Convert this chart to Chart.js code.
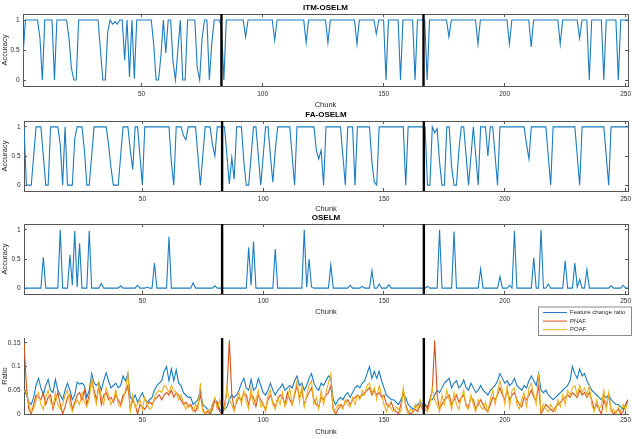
<!DOCTYPE html>
<html><head><meta charset="utf-8">
<script src="https://cdn.jsdelivr.net/npm/chart.js@4"></script>
<style>
html,body{margin:0;padding:0;background:#fff;width:632px;height:439px;overflow:hidden}
.box{position:absolute;left:0;width:632px}
canvas{display:block}
</style></head><body>
<div class="box" style="top:0px"><canvas id="c1" width="632" height="110"></canvas></div>
<div class="box" style="top:107px"><canvas id="c2" width="632" height="107"></canvas></div>
<div class="box" style="top:210px"><canvas id="c3" width="632" height="107"></canvas></div>
<div class="box" style="top:300px"><canvas id="c4" width="632" height="137"></canvas></div>
<script>
// ---------- data ----------
const xMin = 1, xMax = 251;
const chunks = Array.from({length: 251}, (_, i) => i + 1);
const xTicks = [50, 100, 150, 200, 250];
const accTicks = [0, 0.5, 1];
const ratioTicks = [0, 0.05, 0.1, 0.15];
const changePoints = [83, 166.5];

const itmOselm = [
0.4,1,1,1,1,1,1,0.7,0,1,
1,1,1,0,1,1,1,1,1,0.7,
0.2,0,0,1,1,1,1,1,1,1,
1,1,0.5,0,0,0.8,1,0.93,0.97,0.93,
1,1,0.33,1,0.05,1,0.02,1,1,1,
1,1,1,1,0.6,0,0,0.4,1,0.45,
1,1,0.3,0,0.5,1,0,0,1,1,
1,1,0.2,0,0.7,1,1,0,0.6,1,
1,1,0.9,0,1,1,1,1,1,1,
1,1,0.72,1,1,1,1,1,1,1,
1,1,1,1,0.66,1,1,1,1,1,
1,1,1,1,1,1,1,0.62,1,1,
1,1,1,1,1,1,0.62,1,1,1,
1,1,1,1,1,1,1,1,0.6,1,
1,1,1,1,1,1,0.77,1,1,1,
0,1,1,1,1,1,0,1,1,1,
1,1,0,1,1,1,1,0,1,1,
1,1,1,1,1,1,0.72,1,1,1,
1,1,1,1,1,1,1,1,0.6,1,
1,1,1,1,1,1,1,1,1,1,
1,0.6,1,1,1,1,1,1,1,1,
0.55,1,1,1,1,1,1,1,1,1,
1,1,0.6,1,1,1,1,1,1,1,
0.7,1,1,1,0,1,1,1,1,1,
0,1,1,1,1,1,0,1,1,1,
1];

const faOselm = [
1,0,0,0,0.5,1,1,1,0.5,0,
0,1,1,1,1,0.7,0,1,0,0,
0,0.8,1,1,1,0.6,0,0,0.5,1,
1,1,1,1,1,0.7,0.3,0,0,0,
0.5,1,1,1,0.6,0.27,1,1,0.5,0,
1,1,1,1,1,1,1,1,1,1,
1,0.4,0,1,1,1,0.85,0.78,1,1,
1,1,0.5,0,0.5,1,1,1,0.7,0.5,
1,1,1,1,0.5,0.02,0.47,0.1,1,1,
1,0.4,0,0,0.5,1,1,0.5,0,0.5,
1,1,0.5,0.05,0.6,1,1,1,1,1,
1,0.5,0,1,1,1,1,1,1,1,
1,0.6,0.45,0.6,0,1,1,1,1,1,
1,1,0.5,0,1,1,1,0,1,1,
1,1,1,1,0.4,0.05,0,1,1,1,
1,1,1,1,1,1,1,1,0,1,
1,1,1,1,1,1,1,0,0,1,
0.9,0.97,0.4,0,0,1,1,0.3,0,0,
0.6,1,1,0.5,0,0.5,1,0.5,0,1,
1,1,0.5,1,1,0.5,0,1,1,1,
1,1,1,1,1,1,1,1,0.7,0.45,
1,1,1,1,1,1,1,0.5,0,1,
1,1,1,1,1,1,1,1,1,0.5,
0,1,1,1,1,1,1,1,1,1,
1,0.5,0,1,1,1,1,1,1,1,
1];

const oselm = [
0,0,0,0,0,0,0,0,0.53,0,
0,0,0,0,0,1,0,0,0,0.57,
0.05,0.98,0.02,0.77,0,0,0,0.98,0,0,
0,0,0.08,0,0,0,0,0,0,0,
0.04,0,0,0,0,0,0,0.05,0,0,
0,0.02,0,0,0.43,0,0,0,0,0,
0.88,0,0,0,0,0,0,0,0,0,
0.09,0,0,0,0,0,0,0,0,0.04,
0,0,0,0,0,0,0,0,0,0,
0,0,0,0.7,0.05,0.8,0,0,0,0,
0,0,0,0,0.67,0,0,0,0,0,
0,0,0,0,0,0,1,0.02,0.5,0.02,
0,0,0,0,0,0,0,0.4,0,0,
0,0,0,0,0,0.05,0,0,0,0,
0.03,0,0,0,0.3,0,0,0.07,0,0,
0,0.06,0,0,0,0,0,0,0,0,
0,0,0,0,0,0,0,0.03,0,0,
0,0,1,0,0,0,0,0,0.97,0,
0,0,0,0,0,0,0,0,0,0.33,
0,0,0,0,0,0,0,0.2,0,0,
0,0.05,0,0.98,0,0,0,0,0,0,
0,0.52,0,0,1,0,0,0.07,0,0,
0,0,0,0,0.47,0,0,0,0.43,0.02,
0.15,0,0,0.32,0,0,0,0,0,0,
0,0,0,0.04,0,0,0,0,0.05,0,
0];

const featureChangeRatio = [
0.05,0.04,0.025,0.02,0.035,0.06,0.075,0.055,0.04,0.06,
0.073,0.05,0.045,0.073,0.05,0.04,0.03,0.05,0.065,0.05,
0.03,0.04,0.067,0.063,0.065,0.06,0.035,0.05,0.085,0.065,
0.06,0.066,0.05,0.07,0.087,0.07,0.055,0.06,0.065,0.055,
0.06,0.08,0.07,0.085,0.035,0.03,0.04,0.025,0.035,0.045,
0.03,0.025,0.03,0.035,0.05,0.06,0.065,0.07,0.09,0.1,
0.07,0.095,0.07,0.093,0.065,0.06,0.045,0.04,0.035,0.035,
0.02,0.025,0.03,0.05,0.02,0.015,0.01,0.005,0.02,0.03,
0.025,0.01,0.005,0.01,0.015,0.03,0.04,0.035,0.04,0.05,
0.065,0.075,0.055,0.05,0.073,0.05,0.055,0.075,0.06,0.045,
0.04,0.05,0.065,0.05,0.04,0.05,0.055,0.063,0.05,0.055,
0.06,0.055,0.07,0.08,0.06,0.065,0.05,0.06,0.075,0.085,
0.065,0.055,0.05,0.065,0.06,0.07,0.08,0.075,0.03,0.02,
0.03,0.035,0.03,0.04,0.045,0.035,0.045,0.055,0.06,0.055,
0.065,0.07,0.085,0.1,0.075,0.09,0.075,0.09,0.07,0.055,
0.04,0.035,0.03,0.03,0.025,0.02,0.03,0.04,0.035,0.02,
0.015,0.01,0.015,0.02,0.025,0.02,0.02,0.015,0.03,0.03,
0.04,0.05,0.045,0.055,0.065,0.07,0.075,0.055,0.065,0.07,
0.055,0.06,0.072,0.055,0.05,0.065,0.055,0.045,0.05,0.06,
0.05,0.045,0.04,0.05,0.055,0.06,0.07,0.085,0.075,0.065,
0.07,0.06,0.065,0.075,0.06,0.055,0.05,0.06,0.055,0.07,
0.08,0.07,0.06,0.085,0.05,0.045,0.05,0.04,0.035,0.03,
0.035,0.04,0.045,0.05,0.055,0.06,0.07,0.1,0.085,0.075,
0.095,0.08,0.085,0.07,0.06,0.05,0.045,0.04,0.035,0.03,
0.04,0.035,0.04,0.03,0.025,0.02,0.02,0.015,0.01,0.02,
0.03];

const pnaf = [
0.15,0.06,0.01,0,0.02,0.04,0.035,0.03,0.045,0.02,
0.035,0.04,0.01,0.03,0.045,0.02,0,0.015,0.035,0.04,
0.01,0.025,0.04,0.045,0.03,0.05,0.02,0.04,0.07,0.05,
0.03,0.06,0.02,0.04,0.045,0.03,0.035,0.025,0.04,0.03,
0.02,0.04,0.045,0.06,0.01,0.03,0.02,0,0.02,0.015,
0.01,0.02,0.025,0.02,0.03,0.035,0.04,0.03,0.04,0.045,
0.04,0.05,0.035,0.045,0.04,0.03,0.02,0.025,0.015,0.02,
0.01,0.005,0.02,0.04,0.01,0,0.005,0,0.01,0.03,
0.02,0.005,0,0.02,0.05,0.155,0.04,0.01,0.025,0.035,
0.03,0.045,0.04,0.02,0.04,0.035,0.015,0.04,0.03,0.02,
0.01,0.03,0.04,0.025,0.015,0.03,0.04,0.035,0.02,0.045,
0.03,0.02,0.04,0.06,0.035,0.05,0.02,0.035,0.045,0.055,
0.03,0.02,0.015,0.035,0.03,0.04,0.045,0.06,0.01,0,
0.01,0.02,0.015,0.025,0.03,0.02,0.03,0.035,0.04,0.035,
0.04,0.045,0.05,0.055,0.04,0.05,0.04,0.045,0.035,0.04,
0.02,0.015,0.025,0.01,0.005,0,0.02,0.05,0.02,0.005,
0,0.005,0.01,0.005,0.02,0.01,0.02,0.01,0.03,0.05,
0.155,0.04,0.01,0.02,0.03,0.035,0.04,0.02,0.03,0.04,
0.025,0.035,0.04,0.02,0.015,0.035,0.03,0.01,0.02,0.03,
0.02,0.01,0.005,0.02,0.035,0.03,0.04,0.055,0.04,0.03,
0.05,0.03,0.04,0.045,0.03,0.02,0.015,0.035,0.03,0.04,
0.05,0.035,0.03,0.06,0,0.01,0.02,0.015,0.01,0.005,
0.015,0.02,0.025,0.03,0.035,0.04,0.035,0.045,0.04,0.035,
0.05,0.04,0.045,0.035,0.045,0.03,0.01,0.02,0.01,0,
0.03,0.015,0.04,0.01,0,0.005,0.01,0,0.005,0.02,
0.03];

const poaf = [
0.05,0.045,0.02,0.005,0.01,0.03,0.045,0.02,0.01,0.035,
0.05,0.025,0.015,0.045,0.02,0.01,0.02,0.04,0.05,0.02,
0.005,0.02,0.03,0.02,0.045,0.025,0.015,0.03,0.075,0.04,
0.02,0.065,0.035,0.02,0.055,0.04,0.02,0.03,0.05,0.02,
0.015,0.03,0.05,0.085,0.005,0.04,0.015,0.02,0.03,0.01,
0.035,0.02,0.01,0.015,0.035,0.045,0.05,0.045,0.06,0.055,
0.045,0.06,0.05,0.045,0.03,0.04,0.025,0.01,0.02,0.015,
0.005,0.02,0.01,0.065,0.005,0,0.01,0.005,0.02,0.035,
0.01,0.03,0.01,0.01,0.055,0.03,0.02,0.005,0.03,0.045,
0.02,0.05,0.025,0.01,0.055,0.02,0.03,0.05,0.015,0.02,
0.005,0.04,0.05,0.02,0.01,0.035,0.02,0.045,0.015,0.03,
0.055,0.02,0.045,0.07,0.025,0.06,0.015,0.04,0.06,0.07,
0.02,0.035,0.01,0.05,0.02,0.045,0.065,0.085,0.005,0.01,
0.02,0.015,0.01,0.03,0.02,0.015,0.035,0.02,0.04,0.03,
0.05,0.04,0.06,0.065,0.045,0.055,0.03,0.06,0.04,0.02,
0.005,0.02,0.01,0.005,0.015,0.01,0.005,0.055,0.015,0,
0.01,0.005,0.02,0.01,0.03,0.015,0.01,0.005,0.02,0.055,
0.03,0.02,0.005,0.04,0.02,0.05,0.03,0.01,0.045,0.02,
0.01,0.035,0.05,0.015,0.01,0.04,0.02,0.005,0.03,0.015,
0.01,0.025,0.005,0.03,0.05,0.02,0.045,0.07,0.05,0.02,
0.06,0.015,0.05,0.055,0.02,0.01,0.03,0.045,0.015,0.055,
0.065,0.04,0.02,0.085,0.005,0.02,0.01,0.005,0.02,0.01,
0.005,0.03,0.015,0.04,0.02,0.05,0.04,0.055,0.06,0.04,
0.06,0.045,0.055,0.04,0.06,0.02,0.005,0.03,0.01,0.02,
0.05,0.01,0.045,0.005,0.01,0,0.015,0.005,0.02,0.01,
0.025];

[itmOselm, faOselm, oselm, featureChangeRatio, pnaf, poaf].forEach((a, k) => {
  if (a.length !== chunks.length) throw new Error('array ' + k + ' has length ' + a.length);
});

// ---------- style ----------
const FONT = "'Liberation Sans', Arial, Helvetica, sans-serif";
const AX = '#555555';
const TXT = '#2b2b2b';
const BLUE = '#1b7cc0', ORANGE = '#D95319', YELLOW = '#EDB120';

const fixW = w => s => { s.width = w; s.paddingTop = 0; s.paddingBottom = 0; };
const fixH = h => s => { s.height = h; s.paddingLeft = 0; s.paddingRight = 0; };
const setTicks = vals => s => { s.ticks = vals.map(v => ({value: v})); };

const boxLegend = {
  id: 'boxLegend',
  afterDraw(chart, args, o) {
    if (!o || !o.items) return;
    const ctx = chart.ctx;
    ctx.save();
    ctx.fillStyle = '#fff';
    ctx.fillRect(o.x, o.y, o.w, o.h);
    ctx.strokeStyle = '#8a8a8a'; ctx.lineWidth = 1;
    ctx.strokeRect(o.x + 0.5, o.y + 0.5, o.w, o.h);
    ctx.font = o.fontSize + 'px ' + FONT;
    ctx.textBaseline = 'middle';
    o.items.forEach((lab, k) => {
      const ds = chart.data.datasets.find(d => d.label === lab);
      const y = o.y + o.rowTop + k * o.rowH;
      ctx.strokeStyle = ds.borderColor; ctx.lineWidth = 1;
      ctx.beginPath(); ctx.moveTo(o.x + o.lineX0, y); ctx.lineTo(o.x + o.lineX1, y); ctx.stroke();
      ctx.fillStyle = TXT;
      ctx.fillText(lab, o.x + o.textX, y);
    });
    ctx.restore();
  }
};

function makePlot(id, cfg) {
  const datasets = [];
  changePoints.forEach(cp => datasets.push({
    label: '_sep', data: [{x: cp, y: cfg.yMin}, {x: cp, y: cfg.yMax}],
    borderColor: '#000', borderWidth: 2.4, pointRadius: 0
  }));
  cfg.series.forEach(s => datasets.push({
    label: s.label, data: chunks.map((c, i) => ({x: c, y: s.values[i]})),
    borderColor: s.color, borderWidth: s.width || 1.1, pointRadius: 0, tension: 0
  }));
  const tickGrid = {display: true, drawOnChartArea: false, drawTicks: true, tickLength: -3, color: AX, lineWidth: 1};
  const scales = {
    x: {
      type: 'linear', position: 'bottom', min: xMin, max: xMax,
      afterBuildTicks: setTicks(xTicks), afterFit: fixH(cfg.xH),
      ticks: {font: {family: FONT, size: 6.5}, color: TXT, padding: cfg.xPad, maxRotation: 0, autoSkip: false, callback: v => String(v)},
      grid: tickGrid,
      border: {display: true, color: AX, width: 1},
      title: {display: true, text: 'Chunk', font: {family: FONT, size: 7.5}, color: TXT, padding: {top: 0, bottom: cfg.chunkPad}}
    },
    y: {
      type: 'linear', position: 'left', min: cfg.yMin, max: cfg.yMax,
      afterBuildTicks: setTicks(cfg.yTicks), afterFit: fixW(cfg.left),
      ticks: {font: {family: FONT, size: 6.5}, color: TXT, padding: 6.5, callback: v => String(v)},
      grid: tickGrid,
      border: {display: true, color: AX, width: 1},
      title: {display: true, text: cfg.yTitle, font: {family: FONT, size: 7.5}, color: TXT, padding: {top: 0.8, bottom: 0}}
    }
  };
  if (cfg.box) {
    scales.x2 = {
      type: 'linear', position: 'top', min: xMin, max: xMax,
      afterBuildTicks: setTicks(xTicks), afterFit: fixH(0),
      ticks: {display: false}, grid: tickGrid, border: {display: true, color: AX, width: 1}
    };
    scales.y2 = {
      type: 'linear', position: 'right', min: cfg.yMin, max: cfg.yMax,
      afterBuildTicks: setTicks(cfg.yTicks), afterFit: fixW(0),
      ticks: {display: false}, grid: tickGrid, border: {display: true, color: AX, width: 1}
    };
  }
  return new Chart(document.getElementById(id), {
    type: 'line',
    data: {datasets},
    options: {
      responsive: false, animation: false, events: [],
      layout: {padding: {left: 0, right: 632 - 628, top: cfg.topPad || 0, bottom: 0}},
      scales,
      plugins: {
        legend: {display: false}, tooltip: {enabled: false},
        title: cfg.title ? {display: true, text: cfg.title, fullSize: false, color: '#000',
          font: {family: FONT, size: 8, weight: 'bold', lineHeight: 1}, padding: {top: 4, bottom: 2}} : {display: false},
        boxLegend: cfg.legend || {}
      }
    },
    plugins: [boxLegend]
  });
}

makePlot('c1', {title: 'ITM-OSELM', yTitle: 'Accuracy', yMin: -0.1, yMax: 1.1, yTicks: accTicks,
  left: 23, xH: 24, xPad: 7, chunkPad: 0.5, box: true,
  series: [{label: 'ITM-OSELM', values: itmOselm, color: BLUE}]});
makePlot('c2', {title: 'FA-OSELM', yTitle: 'Accuracy', yMin: -0.1, yMax: 1.1, yTicks: accTicks,
  left: 24, xH: 23, xPad: 7, chunkPad: 0.5, box: true,
  series: [{label: 'FA-OSELM', values: faOselm, color: BLUE}]});
makePlot('c3', {title: 'OSELM', yTitle: 'Accuracy', yMin: -0.1, yMax: 1.1, yTicks: accTicks,
  left: 24, xH: 23, xPad: 6, chunkPad: 0.5, box: true,
  series: [{label: 'OSELM', values: oselm, color: BLUE}]});
makePlot('c4', {title: null, yTitle: 'Ratio', yMin: 0, yMax: 0.16, yTicks: ratioTicks,
  left: 24, xH: 23, xPad: 5, chunkPad: 0.5, box: false, topPad: 38,
  series: [
    {label: 'POAF', values: poaf, color: YELLOW},
    {label: 'PNAF', values: pnaf, color: ORANGE},
    {label: 'Feature change ratio', values: featureChangeRatio, color: BLUE}
  ],
  legend: {items: ['Feature change ratio', 'PNAF', 'POAF'], x: 538, y: 6.5, w: 93, h: 28.5,
    rowTop: 6, rowH: 8.6, lineX0: 5, lineX1: 29, textX: 32, fontSize: 6}});
</script>
</body></html>
